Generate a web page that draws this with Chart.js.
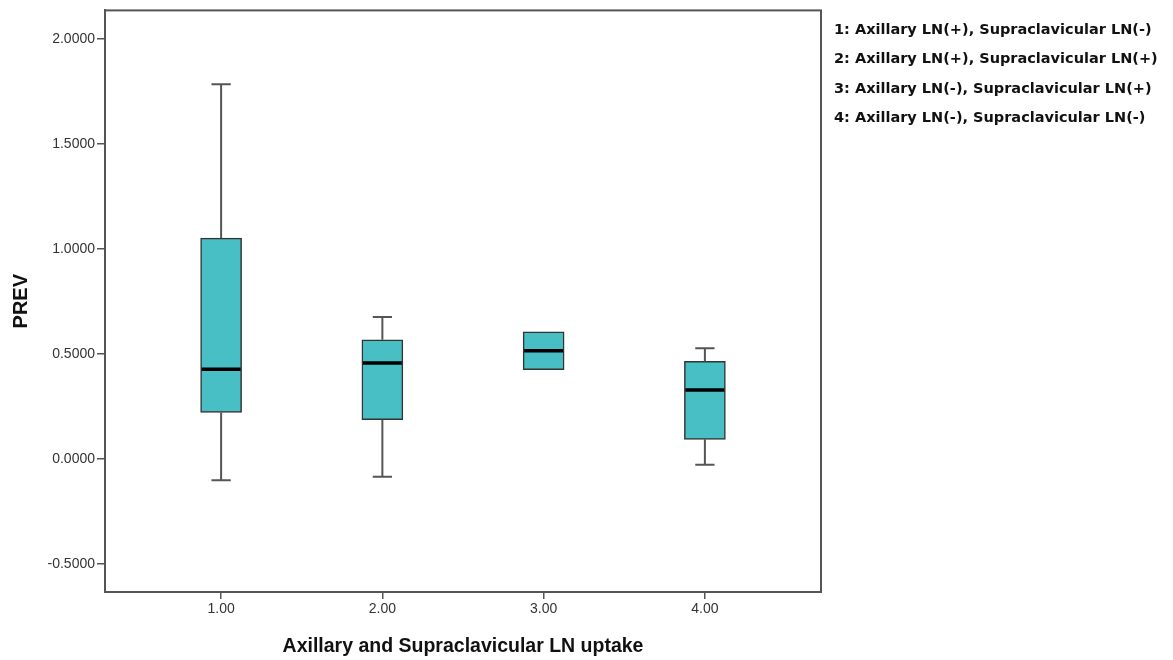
<!DOCTYPE html>
<html>
<head>
<meta charset="utf-8">
<script src="https://cdn.jsdelivr.net/npm/chart.js@4.4.0/dist/chart.umd.min.js"></script>
<style>
  html, body { margin: 0; padding: 0; background: #fff; }
  #wrap { width: 1173px; height: 660px; position: relative; }
</style>
</head>
<body>
<div id="wrap"><canvas id="chart" width="1173" height="660"></canvas></div>
<script>
// group positions on the x axis and their tick labels
const groups = [1, 2, 3, 4]
const xTicks = [1, 2, 3, 4]
const yTicks = [-0.5, 0, 0.5, 1, 1.5, 2]

// box plot stats for PREV per group
const whiskerLow  = [-0.101, -0.084, 0.425, -0.027]
const q1          = [0.222, 0.187, 0.425, 0.094]
const median      = [0.427, 0.457, 0.516, 0.329]
const q3          = [1.052, 0.568, 0.606, 0.465]
const whiskerHigh = [1.784, 0.676, 0.606, 0.527]

const legendLabels = [
    "1: Axillary LN(+), Supraclavicular LN(-)",
    "2: Axillary LN(+), Supraclavicular LN(+)",
    "3: Axillary LN(-), Supraclavicular LN(+)",
    "4: Axillary LN(-), Supraclavicular LN(-)"
]

const boxFill = "#47bfc4"
const lineGray = "#555555"

// frame round the plot area
const framePlugin = {
    id: "frame",
    beforeDatasetsDraw(chart) {
        const {ctx, chartArea: a} = chart
        ctx.save()
        ctx.strokeStyle = lineGray
        ctx.lineWidth = 2
        ctx.strokeRect(a.left, a.top, a.right - a.left, a.bottom - a.top)
        ctx.restore()
    }
}

// whiskers, caps and medians
const whiskerPlugin = {
    id: "whiskers",
    afterDatasetsDraw(chart) {
        const ctx = chart.ctx
        const xs = chart.scales.x, ys = chart.scales.y
        const meta = chart.getDatasetMeta(0)
        ctx.save()
        groups.forEach((g, i) => {
            const x = xs.getPixelForValue(g)
            const half = meta.data[i].width / 2
            const cap = half * 0.47
            ctx.strokeStyle = lineGray
            ctx.lineWidth = 2
            ctx.beginPath()
            if (whiskerHigh[i] > q3[i]) {
                ctx.moveTo(x, ys.getPixelForValue(q3[i]))
                ctx.lineTo(x, ys.getPixelForValue(whiskerHigh[i]))
                ctx.moveTo(x - cap, ys.getPixelForValue(whiskerHigh[i]))
                ctx.lineTo(x + cap, ys.getPixelForValue(whiskerHigh[i]))
            }
            if (whiskerLow[i] < q1[i]) {
                ctx.moveTo(x, ys.getPixelForValue(q1[i]))
                ctx.lineTo(x, ys.getPixelForValue(whiskerLow[i]))
                ctx.moveTo(x - cap, ys.getPixelForValue(whiskerLow[i]))
                ctx.lineTo(x + cap, ys.getPixelForValue(whiskerLow[i]))
            }
            ctx.stroke()
            ctx.strokeStyle = "#000"
            ctx.lineWidth = 3.5
            ctx.beginPath()
            ctx.moveTo(x - half + 1, ys.getPixelForValue(median[i]))
            ctx.lineTo(x + half - 1, ys.getPixelForValue(median[i]))
            ctx.stroke()
        })
        ctx.restore()
    }
}

// group legend text on the right
const notePlugin = {
    id: "notes",
    afterDraw(chart) {
        const ctx = chart.ctx
        ctx.save()
        ctx.fillStyle = "#111"
        ctx.font = "bold 14.5px 'DejaVu Sans', Verdana, sans-serif"
        ctx.textBaseline = "middle"
        legendLabels.forEach((t, i) => ctx.fillText(t, 834, 30 + i * 29.5))
        ctx.restore()
    }
}

new Chart("chart", {
    type: "bar",
    data: {
        datasets: [{
            data: groups.map((g, i) => ({x: g, y: [q1[i], q3[i]]})),
            backgroundColor: boxFill,
            borderColor: "#333",
            borderWidth: 1.5,
            borderSkipped: false,
            barThickness: 41
        }]
    },
    options: {
        responsive: false,
        animation: false,
        layout: {padding: {top: 9, right: 352, left: 0, bottom: 0}},
        plugins: {legend: {display: false}, tooltip: {enabled: false}},
        scales: {
            x: {
                type: "linear",
                offset: false,
                min: 0.28,
                max: 4.72,
                afterBuildTicks: s => { s.ticks = xTicks.map(v => ({value: v})) },
                afterFit: s => { s.height = 68 },
                grid: {offset: false, drawOnChartArea: false, drawTicks: true, tickLength: 7, color: lineGray, lineWidth: 1.5},
                border: {display: true, color: lineGray, width: 2},
                ticks: {
                    callback: v => Number(v).toFixed(2),
                    color: "#333",
                    padding: 2,
                    font: {family: "'Liberation Sans', Arial", size: 14}
                },
                title: {
                    display: true,
                    text: "Axillary and Supraclavicular LN uptake",
                    color: "#111",
                    padding: {top: 0, bottom: 2},
                    font: {family: "'Liberation Sans', Arial", size: 19.5, weight: "bold"}
                }
            },
            y: {
                min: -0.633,
                max: 2.136,
                afterBuildTicks: s => { s.ticks = yTicks.map(v => ({value: v})) },
                afterFit: s => { s.width = 105 },
                grid: {drawOnChartArea: false, drawTicks: true, tickLength: 8, color: lineGray, lineWidth: 1.5},
                border: {display: true, color: lineGray, width: 2},
                ticks: {
                    callback: v => Number(v).toFixed(4),
                    color: "#333",
                    padding: 2,
                    font: {family: "'Liberation Sans', Arial", size: 14}
                },
                title: {
                    display: true,
                    text: "PREV",
                    color: "#111",
                    padding: {top: 9, bottom: 0},
                    font: {family: "'Liberation Sans', Arial", size: 20, weight: "bold"}
                }
            }
        }
    },
    plugins: [framePlugin, whiskerPlugin, notePlugin]
})
</script>
</body>
</html>
